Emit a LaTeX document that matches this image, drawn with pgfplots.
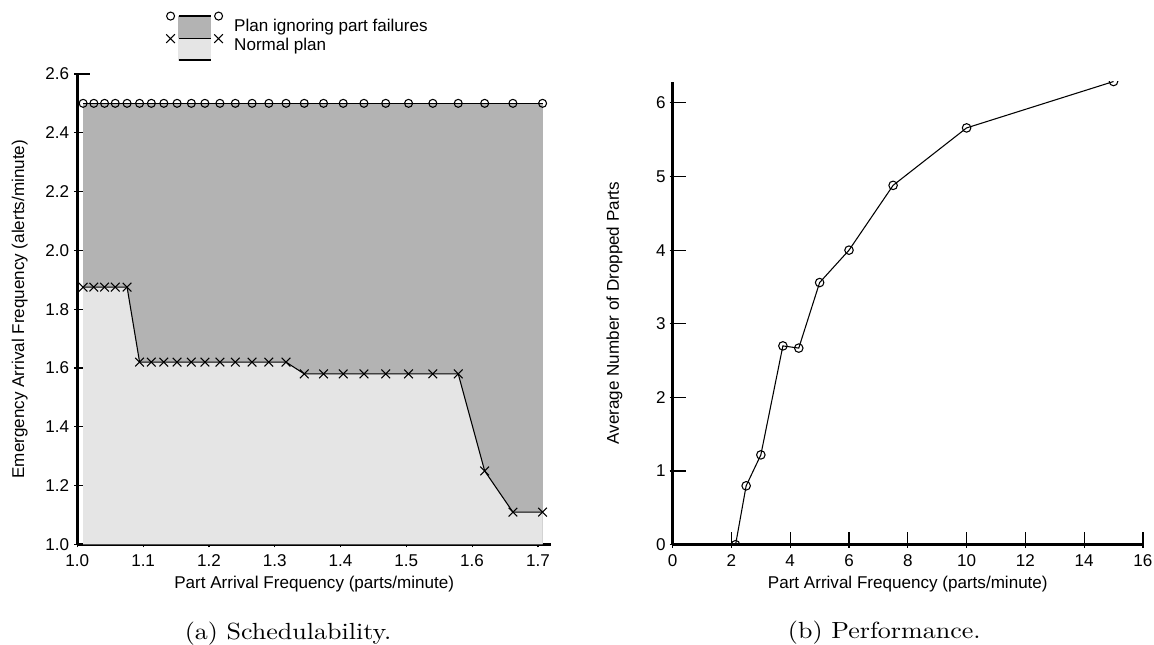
\documentclass[border=0pt]{standalone}
\usepackage{fontspec}
\newfontfamily\sansf{Liberation Sans}
\usepackage{graphicx}
\usepackage{pgfplots}
\pgfplotsset{compat=1.18}
\definecolor{gdark}{RGB}{179,179,179}
\definecolor{glight}{RGB}{229,229,229}
\newcommand{\lblfont}{\sansf\fontsize{12.8}{15}\selectfont}
\pgfplotsset{
  myaxis/.style={
    scale only axis,
    axis x line*=bottom, axis y line*=left,
    axis line style={-, line width=2pt},
    tick align=inside,
    major tick length=12pt,
    xtick style={line width=0.9pt, black, yshift=-2.25pt},
    ytick style={line width=0.9pt, black, xshift=-2.25pt},
    enlargelimits=false,
    font=\lblfont,
    ticklabel style={font=\lblfont, inner sep=0pt},
    /pgf/number format/assume math mode=true,
    xticklabel style={anchor=north, yshift=-7.3pt},
    yticklabel style={anchor=east, xshift=-6pt},
    label style={font=\lblfont},
    clip mode=individual,
  }
}
\begin{document}
\begin{tikzpicture}
\useasboundingbox (0,0) rectangle (865.5pt,483.75pt);
% ---------------- (a) Schedulability ----------------
\begin{axis}[myaxis,
  at={(58pt,75.4pt)}, anchor=south west,
  width=355.3pt, height=352.9pt,
  xmin=1, xmax=1.72, ymin=1, ymax=2.6,
  xtick={1.0,1.1,1.2,1.3,1.4,1.5,1.6,1.7},
  ytick={1.0,1.2,1.4,1.6,1.8,2.0,2.2,2.4,2.6},
  xticklabel style={/pgf/number format/.cd, fixed, fixed zerofill, precision=1},
  yticklabel style={/pgf/number format/.cd, fixed, fixed zerofill, precision=1},
  xlabel={Part Arrival Frequency (parts/minute)},
  ylabel={Emergency Arrival Frequency (alerts/minute)},
  xlabel style={at={(axis description cs:0.5,-0.085)}, anchor=center},
  ylabel style={at={(axis description cs:-0.1218,0.5)}, anchor=center},
  legend cell align=left,
  legend style={at={(axis description cs:0.2132,1.1177)}, anchor=north west,
    draw=none, fill=none, inner sep=0pt, outer sep=0pt,
    row sep=0pt, column sep=17.5pt,
    nodes={inner sep=0pt, font=\lblfont, text height=10pt, text depth=3.7pt}},
]
\addplot[fill=gdark, draw=none, forget plot] coordinates {(1.0088,2.5) (1.7071,2.5)} \closedcycle;
\addplot[fill=glight, draw=none, forget plot] coordinates {
(1.0088,1.875) (1.0251,1.875) (1.0414,1.875) (1.0576,1.875) (1.0756,1.875)
(1.0946,1.62) (1.1125,1.62) (1.1315,1.62) (1.1516,1.62) (1.1733,1.62) (1.1939,1.62)
(1.2167,1.62) (1.2401,1.62) (1.2656,1.62) (1.2911,1.62) (1.3172,1.62)
(1.3449,1.58) (1.3742,1.58) (1.4041,1.58) (1.4356,1.58) (1.4687,1.58) (1.5034,1.58)
(1.5403,1.58) (1.5789,1.58)
(1.6191,1.25) (1.6620,1.11) (1.7071,1.11)} \closedcycle;
\addplot[black, line width=0.8pt, mark=x, mark size=4.6pt, forget plot] coordinates {
(1.0088,1.875) (1.0251,1.875) (1.0414,1.875) (1.0576,1.875) (1.0756,1.875)
(1.0946,1.62) (1.1125,1.62) (1.1315,1.62) (1.1516,1.62) (1.1733,1.62) (1.1939,1.62)
(1.2167,1.62) (1.2401,1.62) (1.2656,1.62) (1.2911,1.62) (1.3172,1.62)
(1.3449,1.58) (1.3742,1.58) (1.4041,1.58) (1.4356,1.58) (1.4687,1.58) (1.5034,1.58)
(1.5403,1.58) (1.5789,1.58)
(1.6191,1.25) (1.6620,1.11) (1.7071,1.11)};
\addplot[black, line width=0.8pt, mark=o, mark size=3pt, forget plot] coordinates {
(1.0088,2.5) (1.0251,2.5) (1.0414,2.5) (1.0576,2.5) (1.0756,2.5)
(1.0946,2.5) (1.1125,2.5) (1.1315,2.5) (1.1516,2.5) (1.1733,2.5) (1.1939,2.5)
(1.2167,2.5) (1.2401,2.5) (1.2656,2.5) (1.2911,2.5) (1.3172,2.5)
(1.3449,2.5) (1.3742,2.5) (1.4041,2.5) (1.4356,2.5) (1.4687,2.5) (1.5034,2.5)
(1.5403,2.5) (1.5789,2.5)
(1.6191,2.5) (1.6620,2.5) (1.7071,2.5)};
\addlegendimage{legend image code/.code={
  \path (6pt,-1pt) rectangle (30pt,1pt);
  \fill[overlay, gdark] (6pt,-8.25pt) rectangle (30pt,8.7pt);
  \draw[overlay, black, line width=1.3pt] (6pt,8.7pt) -- (30pt,8.7pt);
  \draw[overlay, black, line width=0.8pt, mark=o, mark size=3pt, only marks] plot coordinates {(0pt,8.7pt) (36pt,8.7pt)};
}}
\addlegendentry{Plan ignoring part failures}
\addlegendimage{legend image code/.code={
  \path (6pt,-1pt) rectangle (30pt,1pt);
  \fill[overlay, glight] (6pt,-10.8pt) rectangle (30pt,5.5pt);
  \draw[overlay, black, line width=1.3pt] (6pt,5.5pt) -- (30pt,5.5pt);
  \draw[overlay, black, line width=1.3pt] (6pt,-10.8pt) -- (30pt,-10.8pt);
  \draw[overlay, black, line width=0.8pt, mark=x, mark size=4.6pt, only marks] plot coordinates {(0pt,5.5pt) (36pt,5.5pt)};
}}
\addlegendentry{Normal plan}
\node[font=\rmfamily\fontsize{10}{12}\selectfont] at (axis description cs:0.445,-0.19) {\scalebox{1.95}[1.75]{(a) Schedulability.}};
\end{axis}
% ---------------- (b) Performance ----------------
\begin{axis}[myaxis,
  at={(504.5pt,75.2pt)}, anchor=south west,
  width=352.7pt, height=347.4pt,
  xmin=0, xmax=16, ymin=0, ymax=6.29,
  xtick={0,2,4,6,8,10,12,14,16},
  ytick={0,1,2,3,4,5,6},
  clip marker paths=true,
  xlabel={Part Arrival Frequency (parts/minute)},
  ylabel={Average Number of Dropped Parts},
  xlabel style={at={(axis description cs:0.5,-0.085)}, anchor=center},
  ylabel style={at={(axis description cs:-0.1237,0.5)}, anchor=center},
  yticklabel style={xshift=1pt},
]
\addplot[black, line width=0.8pt, mark=o, mark size=3.2pt] coordinates {
(2.14,0) (2.5,0.80) (3,1.22) (3.75,2.70) (4.29,2.67) (5,3.56) (6,4.0) (7.5,4.88) (10,5.66) (15,6.29)};
\node[font=\rmfamily\fontsize{10}{12}\selectfont] at (axis description cs:0.45,-0.19) {\scalebox{1.95}[1.75]{(b) Performance.}};
\end{axis}
\end{tikzpicture}
\end{document}
